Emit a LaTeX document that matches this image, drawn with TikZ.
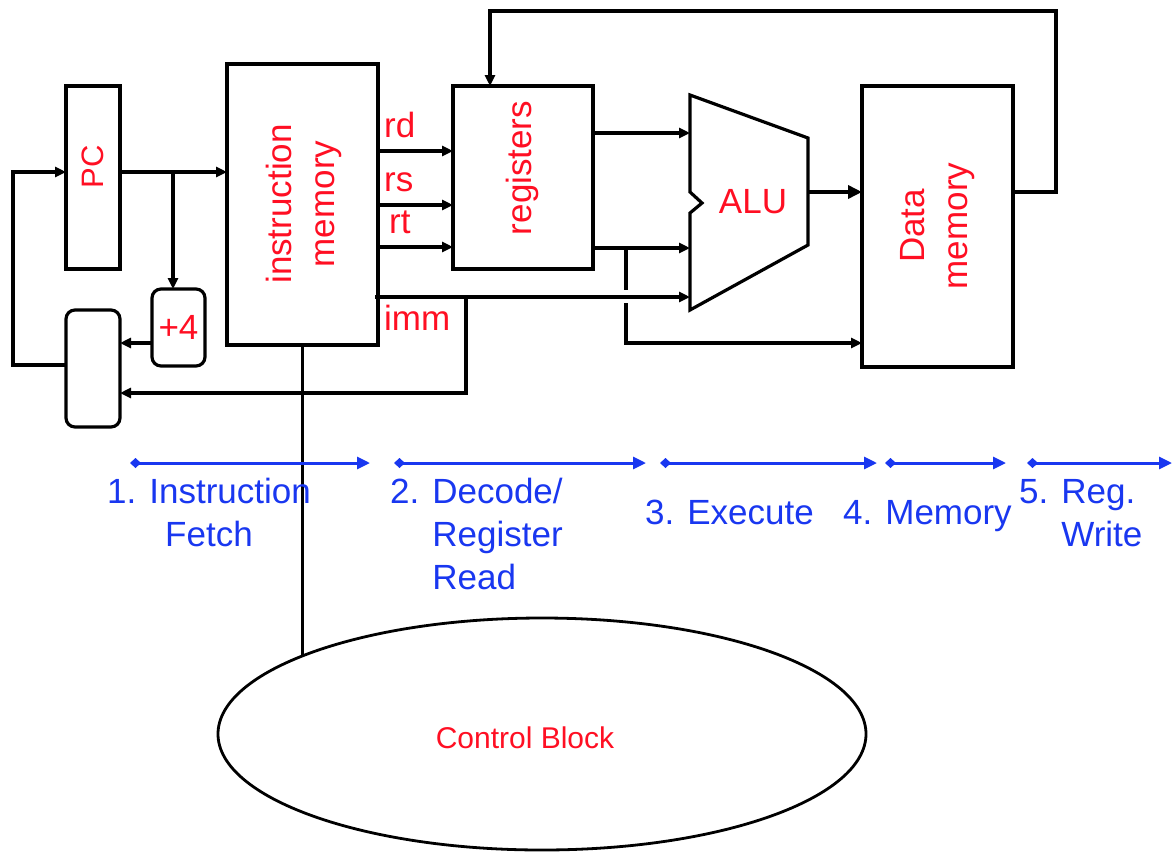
\documentclass[tikz,border=0pt]{standalone}
\usepackage{fontspec}
\setmainfont{Liberation Sans}
\usetikzlibrary{arrows.meta,shapes.geometric}
\definecolor{lblred}{RGB}{255,15,35}
\definecolor{stageblue}{RGB}{25,55,240}
\begin{document}
\begin{tikzpicture}[x=1pt,y=-1pt,
  box/.style={draw, line width=3.2pt, inner sep=0pt, outer sep=0pt, rectangle},
  rbox/.style={box, rounded corners=9pt},
  lbl/.style={text=lblred, font=\fontsize{35}{43}\selectfont, inner sep=0pt, align=center},
  wire/.style={line width=3.2pt},
  sig/.style={line width=3.2pt, -{Triangle[length=11pt,width=10pt]}},
  stage/.style={draw=stageblue, line width=3pt, {Diamond[length=11pt,width=10pt]}-{Triangle[length=13pt,width=12pt]}},
  stagetxt/.style={text=stageblue, font=\fontsize{35}{43}\selectfont, inner sep=0pt}]
\useasboundingbox (0,0) rectangle (1172,852);

% blocks
\node[box, minimum width=54pt, minimum height=183pt] (pc) at (93,177.5) {};
\node[lbl, rotate=90, font=\fontsize{31}{38}\selectfont] (pct) at (93,167) {PC};
\node[box, minimum width=151pt, minimum height=281pt] (imem) at (302.5,204.5) {};
\node[lbl, rotate=90] (imemt) at (304,204) {instruction\\memory};
\node[box, minimum width=140pt, minimum height=183pt] (regs) at (523,177.5) {};
\node[lbl, rotate=90] (regst) at (522,168) {registers};
\node[box, minimum width=151pt, minimum height=281pt] (dmem) at (937.5,226.5) {};
\node[lbl, rotate=90] (dmemt) at (938,226) {Data\\memory};
\node[rbox, minimum width=53pt, minimum height=77pt, text=lblred, font=\fontsize{35}{43}\selectfont] (plus4) at (178.5,327.5) {+4};
\node[rbox, minimum width=54pt, minimum height=117pt] (mux) at (93,368.5) {};

% ALU
\draw[wire] (690,95) -- (808,138) -- (808,245) -- (690,310) -- (690,213) -- (702,203) -- (690,192) -- cycle;
\coordinate (aluL) at (690,0);
\coordinate (aluR) at (808,192);
\node[lbl] (alut) at (753,202) {ALU};

% control block
\node[draw, ellipse, line width=2.8pt, inner sep=0pt, minimum width=648pt, minimum height=232pt] (ctrl) at (542,734) {};
\node[lbl, font=\fontsize{30}{36}\selectfont] (ctrlt) at (525,738) {Control Block};
\draw[wire] (imem.south) -- (imem.south |- ctrl.162);

% field labels
\node[lbl, anchor=base west] (rd) at (384,137) {rd};
\node[lbl, anchor=base west] (rs) at (384,191) {rs};
\node[lbl, anchor=base west] (rt) at (389,233) {rt};
\node[lbl, anchor=base west] (imm) at (384,330) {imm};

% helper coordinates
\coordinate (yA) at (0,172);
\coordinate (yMuxOut) at (0,365);
\coordinate (yP4) at (0,343);
\coordinate (yImmMux) at (0,393);
\coordinate (xLoop) at (13,0);
\coordinate (br1) at (173,172);
\coordinate (immStart) at (375,297);
\coordinate (immBr) at (466,297);
\coordinate (r2br) at (626,248);
\coordinate (gapTop) at (626,290);
\coordinate (gapBot) at (626,303);
\coordinate (fbR) at (1056,192);
\coordinate (fbTR) at (1056,11);
\coordinate (fbTL) at (490,11);

% PC loop
\draw[sig] (mux.west |- yMuxOut) -- (xLoop |- yMuxOut) -- (xLoop |- yA) -- (pc.west |- yA);
\draw[sig] (pc.east |- yA) -- (imem.west |- yA);
\draw[sig] (br1) -- (br1 |- plus4.north);
\draw[sig] (plus4.west |- yP4) -- (mux.east |- yP4);
\draw[sig] (immBr) -- (immBr |- yImmMux) -- (mux.east |- yImmMux);

% instruction fields
\draw[sig] (imem.east |- 0,151) -- (regs.west |- 0,151);
\draw[sig] (imem.east |- 0,205) -- (regs.west |- 0,205);
\draw[sig] (imem.east |- 0,247) -- (regs.west |- 0,247);
\draw[sig] (immStart) -- (aluL |- immStart);

% register outputs
\draw[sig] (regs.east |- 0,133) -- (aluL |- 0,133);
\draw[sig] (regs.east |- r2br) -- (aluL |- r2br);
\draw[wire] (r2br) -- (gapTop);
\draw[sig] (gapBot) -- (gapBot |- yP4) -- (dmem.west |- yP4);

% ALU output
\draw[line width=4.5pt, -{Triangle[length=14pt,width=13pt]}] (aluR) -- (dmem.west |- aluR);

% write back
\draw[sig] (dmem.east |- fbR) -- (fbR) -- (fbTR) -- (fbTL) -- (fbTL |- regs.north);

% stage arrows
\coordinate (s1a) at (130,463); \coordinate (s1b) at (370,463);
\coordinate (s2a) at (394,463); \coordinate (s2b) at (646,463);
\coordinate (s3a) at (660,463); \coordinate (s3b) at (877,463);
\coordinate (s4a) at (885,463); \coordinate (s4b) at (1006,463);
\coordinate (s5a) at (1027,463); \coordinate (s5b) at (1172,463);
\draw[stage] (s1a) -- (s1b);
\draw[stage] (s2a) -- (s2b);
\draw[stage] (s3a) -- (s3b);
\draw[stage] (s4a) -- (s4b);
\draw[stage] (s5a) -- (s5b);

% stage labels (base anchor = baseline of the last line)
\node[stagetxt, align=center, anchor=base] (st1) at (209,546) {1. Instruction\\Fetch};
\node[stagetxt, align=left, anchor=base west] (st2) at (390,589) {2. Decode/\\\hphantom{2. }Register\\\hphantom{2. }Read};
\node[stagetxt, anchor=base west] (st3) at (645,524) {3. Execute};
\node[stagetxt, anchor=base west] (st4) at (843,524) {4. Memory};
\node[stagetxt, align=left, anchor=base west] (st5) at (1019,546) {5. Reg.\\\hphantom{5. }Write};
\end{tikzpicture}
\end{document}
